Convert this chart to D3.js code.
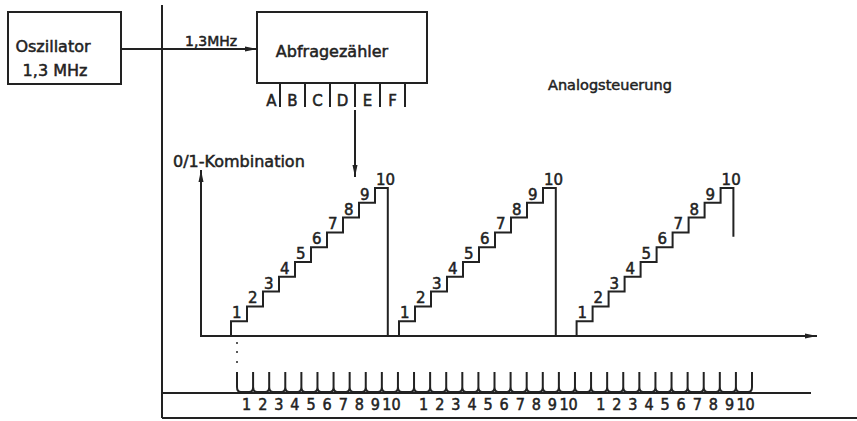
<!DOCTYPE html>
<html>
<head>
<meta charset="utf-8">
<script src="https://cdn.jsdelivr.net/npm/d3@7"></script>
<style>
  body { margin: 0; background: #fff; }
  svg { display: block; }
  text { font-family: "DejaVu Sans", sans-serif; fill: #222; stroke: #222; stroke-width: 0.5px; }
  text.narrow { font-family: "DejaVu Sans Condensed", "DejaVu Sans", sans-serif; }
</style>
</head>
<body>
<script>
    //data
    var cycleStarts = [0, 10.5, 21.6];          //start of each staircase, in clock periods
    var levels = [1, 2, 3, 4, 5, 6, 7, 8, 9, 10]; //counter steps
    var dropLevels = [0, 0, 6.7];               //level where the falling edge stops
    var counterOutputs = ["A", "B", "C", "D", "E", "F"];
    var clockLabels = ["1", "2", "3", "4", "5", "6", "7", "8", "9", "10"];
    var clockGroups = [0, 1, 2];
    var clockCount = 33;

    window.onload = drawDiagram();

    function drawDiagram(){

        var width = 857,
            height = 421,
            ink = "#222";

        var svg = d3.select("body")
            .append("svg")
            .attr("width", width)
            .attr("height", height);

        var defs = svg.append("defs");
        defs.append("marker")
            .attr("id", "arrow")
            .attr("viewBox", "0 0 12 6")
            .attr("refX", 12)
            .attr("refY", 3)
            .attr("markerWidth", 12)
            .attr("markerHeight", 6)
            .attr("markerUnits", "userSpaceOnUse")
            .attr("orient", "auto")
            .append("path")
            .attr("d", "M0,0.5 L12,3 L0,5.5 Z")
            .attr("fill", ink);

        var g = svg.append("g")
            .attr("fill", "none")
            .attr("stroke", ink)
            .attr("stroke-width", 2);

        //frame lines
        g.append("line").attr("x1", 162).attr("y1", 5).attr("x2", 162).attr("y2", 418);
        g.append("line").attr("x1", 162).attr("y1", 393).attr("x2", 811).attr("y2", 393);
        g.append("line").attr("x1", 162).attr("y1", 418).attr("x2", 857).attr("y2", 418);

        //oscillator block
        g.append("rect").attr("x", 8).attr("y", 12).attr("width", 113).attr("height", 72);
        svg.append("text").attr("x", 53).attr("y", 52).attr("text-anchor", "middle")
            .style("font-size", "16px").text("Oszillator");
        svg.append("text").attr("x", 55).attr("y", 76).attr("text-anchor", "middle")
            .style("font-size", "16px").text("1,3 MHz");

        //clock line to the counter
        g.append("line").attr("x1", 121).attr("y1", 49).attr("x2", 257).attr("y2", 49)
            .attr("marker-end", "url(#arrow)");
        svg.append("text").attr("x", 185).attr("y", 46)
            .style("font-size", "14px").text("1,3MHz");

        //counter block
        g.append("rect").attr("x", 257).attr("y", 12).attr("width", 170).attr("height", 71);
        svg.append("text").attr("x", 332).attr("y", 57).attr("text-anchor", "middle")
            .style("font-size", "16px").text("Abfragezähler");

        var xOut = d3.scaleBand()
            .domain(counterOutputs)
            .range([255, 405]);

        g.selectAll(".sep")
            .data(counterOutputs)
            .enter()
            .append("line")
            .attr("x1", function(d){ return xOut(d) + xOut.bandwidth(); })
            .attr("x2", function(d){ return xOut(d) + xOut.bandwidth(); })
            .attr("y1", 83)
            .attr("y2", 107);

        svg.selectAll(".out")
            .data(counterOutputs)
            .enter()
            .append("text")
            .attr("x", function(d, i){ return xOut(d) + xOut.bandwidth() / 2 + (i == 0 ? 4 : 0); })
            .attr("y", 106)
            .attr("text-anchor", "middle")
            .style("font-size", "15px")
            .text(function(d){ return d; });

        //arrow from the counter down to the staircase
        var xArrow = xOut("D") + xOut.bandwidth();
        g.append("line").attr("x1", xArrow).attr("y1", 110).attr("x2", xArrow).attr("y2", 177)
            .attr("marker-end", "url(#arrow)");

        svg.append("text").attr("x", 548).attr("y", 90)
            .style("font-size", "14.5px").text("Analogsteuerung");

        //staircase chart
        var x = d3.scaleLinear()
            .domain([0, 1])
            .range([231, 247]);

        var y = d3.scaleLinear()
            .domain([0, 10])
            .range([336, 188]);

        g.append("line").attr("x1", 201).attr("y1", y(0)).attr("x2", 201).attr("y2", 170)
            .attr("marker-end", "url(#arrow)");
        g.append("line").attr("x1", 200).attr("y1", y(0)).attr("x2", 817).attr("y2", y(0))
            .attr("marker-end", "url(#arrow)");
        svg.append("text").attr("x", 173).attr("y", 167)
            .style("font-size", "16px").text("0/1-Kombination");

        var stairLine = d3.line()
            .x(function(d){ return x(d[0]); })
            .y(function(d){ return y(d[1]); });

        cycleStarts.forEach(function(t0, c){
            var pts = [[t0, 0]];
            levels.forEach(function(lv, i){
                pts.push([t0 + i, lv]);
                pts.push([t0 + i + (lv == 10 ? 0.8 : 1), lv]);
            });
            pts.push([t0 + 9.8, dropLevels[c]]);

            g.append("path")
                .attr("d", stairLine(pts));

            svg.selectAll(".lab" + c)
                .data(levels)
                .enter()
                .append("text")
                .attr("x", function(d, i){ return x(t0 + i) + 1; })
                .attr("y", function(d){ return y(d) - 3; })
                .style("font-size", "15px")
                .text(function(d){ return d; });
        });

        //dotted link from first step to first clock pulse
        var xc = d3.scaleLinear()
            .domain([0, clockCount - 1])
            .range([237, 752]);

        svg.selectAll(".dot")
            .data([343, 352, 362])
            .enter()
            .append("circle")
            .attr("cx", xc(0))
            .attr("cy", function(d){ return d; })
            .attr("r", 1)
            .attr("fill", ink);

        //clock pulse train
        var ticks = d3.range(clockCount);
        var step = xc(1) - xc(0);
        var pulse = "";
        ticks.forEach(function(i){
            var px = xc(i);
            pulse += "M" + px + ",372 V387";
            if (i > 0) pulse += " Q" + px + ",392 " + (px - 4) + ",392";
            if (i < clockCount - 1) pulse += " M" + px + ",387 Q" + px + ",392 " + (px + 4) + ",392 H" + (px + step - 4);
            pulse += " ";
        });
        g.append("path")
            .attr("d", pulse);

        clockGroups.forEach(function(grp){
            svg.selectAll(".clk" + grp)
                .data(clockLabels)
                .enter()
                .append("text")
                .attr("class", "narrow")
                .attr("x", function(d, j){ return xc(11 * grp + j + 0.6); })
                .attr("y", 410)
                .attr("text-anchor", "middle")
                .style("font-size", "16px")
                .text(function(d){ return d; });
        });
    }
</script>
</body>
</html>
